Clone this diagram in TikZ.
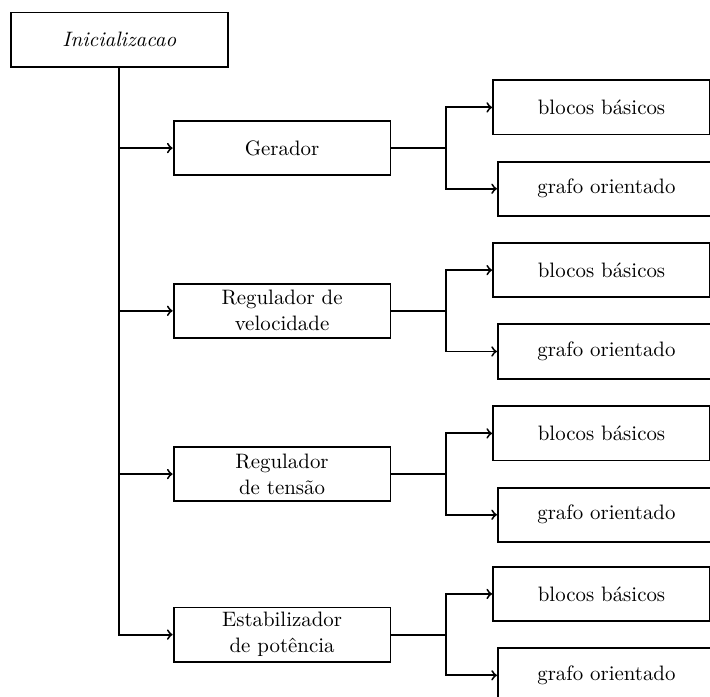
\documentclass[tikz,border=0pt,11pt]{standalone}
\usepackage{tikz}
\tikzstyle{bloco} = [
    rectangle,
    draw,
    line width=1pt,
    align=center,
    inner sep=1pt,
    minimum width=4cm,
    minimum height=1cm
    ]
\tikzstyle{seta} = [line width=1pt, ->]

\begin{document}
\begin{tikzpicture}
        \useasboundingbox (0,0) rectangle (13.09,-12.85);

        \node (init) [bloco] at (2.20,-0.73) {\textit{Inicializacao}};

        % modelos
        \node (ger) [bloco] at (5.20,-2.73) {Gerador};
        \node (regv) [bloco] at (5.20,-5.73) {Regulador de\\velocidade};
        \node (regt) [bloco] at (5.20,-8.74) {Regulador\\de tens\~ao};
        \node (est) [bloco] at (5.20,-11.70) {Estabilizador\\de pot\^encia};

        % representacoes
        \node (gerA) [bloco] at (11.09,-1.98) {blocos b\'asicos};
        \node (gerB) [bloco] at (11.18,-3.48) {grafo orientado};
        \node (regvA) [bloco] at (11.09,-4.98) {blocos b\'asicos};
        \node (regvB) [bloco] at (11.18,-6.48) {grafo orientado};
        \node (regtA) [bloco] at (11.09,-7.99) {blocos b\'asicos};
        \node (regtB) [bloco] at (11.18,-9.49) {grafo orientado};
        \node (estA) [bloco] at (11.09,-10.95) {blocos b\'asicos};
        \node (estB) [bloco] at (11.18,-12.45) {grafo orientado};

        % Lines
        \draw[seta] (init.south) |- (ger.west);
        \draw[seta] (init.south) |- (regv.west);
        \draw[seta] (init.south) |- (regt.west);
        \draw[seta] (init.south) |- (est.west);

        \draw[seta] (ger.east) -- ++(1,0) |- (gerA.west);
        \draw[seta] (ger.east) -- ++(1,0) |- (gerB.west);
        \draw[seta] (regv.east) -- ++(1,0) |- (regvA.west);
        \draw[seta] (regv.east) -- ++(1,0) |- (regvB.west);
        \draw[seta] (regt.east) -- ++(1,0) |- (regtA.west);
        \draw[seta] (regt.east) -- ++(1,0) |- (regtB.west);
        \draw[seta] (est.east) -- ++(1,0) |- (estA.west);
        \draw[seta] (est.east) -- ++(1,0) |- (estB.west);

    \end{tikzpicture}
\end{document}
